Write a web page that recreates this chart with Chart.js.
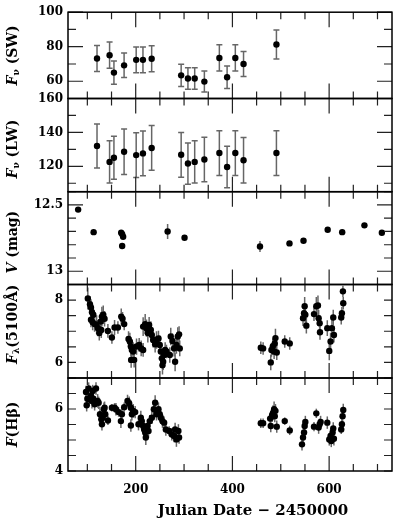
<!DOCTYPE html>
<html>
<head>
<meta charset="utf-8">
<script src="https://cdn.jsdelivr.net/npm/chart.js@4.4.0/dist/chart.umd.min.js"></script>
<style>
  body { margin: 0; background: #fff; }
  #wrap { position: relative; width: 397px; height: 519px; }
  #wrap canvas { position: absolute; left: 0; top: 0; }
</style>
</head>
<body>
<div id="wrap">
  <canvas id="c0" width="397" height="519"></canvas>
  <canvas id="c1" width="397" height="519"></canvas>
  <canvas id="c2" width="397" height="519"></canvas>
  <canvas id="c3" width="397" height="519"></canvas>
  <canvas id="c4" width="397" height="519"></canvas>
</div>
<script>
// ---- data (Julian Date - 2450000) ----
var irDates = [120, 146, 155, 176, 201, 215, 233, 294, 308, 322, 342, 373, 389, 406, 423, 491];
var swFlux = [73.2, 75.1, 65.0, 69.2, 72.4, 72.4, 73.0, 63.4, 61.6, 61.6, 59.8, 73.5, 62.3, 73.5, 70.0, 81.3];
var swErr = [7.5, 7.6, 6.7, 7.1, 7.5, 7.5, 7.5, 6.5, 6.2, 6.2, 6.1, 7.6, 6.5, 7.6, 7.2, 8.4];
var lwFlux = [132, 122.6, 125, 128.6, 126.6, 127.6, 130.8, 126.8, 121.6, 122.6, 124, 127.8, 119.6, 127.8, 123.6, 127.8];
var lwErr = [13, 12.5, 12.7, 13.4, 13.2, 13.2, 13.2, 13.2, 12.2, 12.4, 13.2, 13.2, 12.2, 13.2, 13.4, 13.2];

var vDates = [81, 113, 170, 172, 174, 172, 266, 301, 457, 518, 547, 597, 627, 673, 709];
var vMag = [12.535, 12.705, 12.71, 12.72, 12.74, 12.81, 12.70, 12.747, 12.813, 12.79, 12.77, 12.687, 12.705, 12.654, 12.71];
var vErr = [0.01, 0.01, 0.01, 0.01, 0.01, 0.01, 0.057, 0.01, 0.042, 0.01, 0.01, 0.01, 0.01, 0.01, 0.01];

var contDates = [101, 105.4, 107.5, 109.6, 112.3, 107.5, 111, 115, 119.2, 121.9, 124.7, 127.4, 130.1, 132.9, 135.6, 128.8, 142.5, 150.8, 156.3, 163.2, 170.1, 172.8, 176.2,
  185.2, 187.9, 190, 192.1, 190.6, 194.8, 196.8, 201.7, 207.2, 211.3, 215.4, 215.4, 219.6, 222.3, 225.1, 227.8, 231.3, 233.3, 236.1, 240.2,
  243, 247.1, 249.8, 251.9, 254, 255.4, 256.8, 258.8, 260.9, 263.6, 270.5, 272.5, 276, 279.4, 281.5, 284.2, 287, 289.7, 291.1,
  458.7, 463.5, 479.3, 480.7, 483.5, 486.2, 487.6, 489, 491.7, 508.2, 518.5, 546, 548.1, 549.4, 550.8, 552.9, 568.7, 573.5, 576.9, 578.3,
  580.4, 581.1, 596.2, 600.3, 603, 605.8, 608.5, 609.9, 625, 626.4, 629.2, 628.5];
var contFlux = [8.05, 7.87, 7.76, 7.61, 7.53, 7.37, 7.29, 7.23, 7.21, 7.10, 6.94, 7.31, 7.47, 7.53, 7.40, 7.04, 7.01, 6.80, 7.12, 7.12, 7.47, 7.40, 7.23,
  6.75, 6.67, 6.51, 6.40, 6.08, 6.35, 6.08, 6.51, 6.56, 6.45, 6.40, 7.15, 7.23, 7.10, 6.94, 7.20, 7.04, 6.88, 6.72, 6.58,
  6.72, 6.77, 6.56, 6.35, 6.13, 5.91, 6.02, 6.24, 6.40, 6.35, 6.24, 6.83, 6.69, 6.45, 6.02, 6.56, 6.83, 6.90, 6.45,
  6.47, 6.45, 6.00, 6.40, 6.51, 6.35, 6.61, 6.78, 6.32, 6.67, 6.61, 7.42, 7.58, 7.80, 7.53, 7.18, 7.55, 7.80, 7.83, 7.42,
  7.26, 6.97, 7.10, 6.37, 6.67, 7.10, 7.44, 6.88, 7.44, 7.58, 7.90, 8.28];
var contErr = [0.35, 0.25, 0.27, 0.25, 0.28, 0.24, 0.26, 0.25, 0.3, 0.26, 0.24, 0.3, 0.32, 0.3, 0.25, 0.26, 0.22, 0.2, 0.24, 0.2, 0.26, 0.22, 0.2,
  0.25, 0.28, 0.3, 0.26, 0.25, 0.3, 0.24, 0.26, 0.22, 0.25, 0.22, 0.3, 0.32, 0.28, 0.3, 0.26, 0.28, 0.25, 0.24, 0.26,
  0.28, 0.25, 0.3, 0.28, 0.3, 0.3, 0.26, 0.24, 0.25, 0.22, 0.25, 0.28, 0.24, 0.26, 0.3, 0.28, 0.3, 0.26, 0.25,
  0.2, 0.2, 0.25, 0.22, 0.26, 0.24, 0.25, 0.3, 0.24, 0.2, 0.2, 0.25, 0.26, 0.3, 0.28, 0.25, 0.22, 0.3, 0.32, 0.26,
  0.25, 0.24, 0.25, 0.3, 0.28, 0.26, 0.25, 0.24, 0.22, 0.2, 0.2, 0.18];

var hbDates = [97.2, 100, 98.6, 102.7, 104.1, 107.6, 109.6, 111, 112.4, 115.1, 117.9, 121.3, 123.4, 126.1, 128.9, 130.2, 131.6, 134.3, 135.7, 137.1,
  142.6, 150.8, 156.3, 159.1, 164.6, 169.4, 171.5, 176.2, 183.1, 186.5, 190, 192.1, 190, 194.8, 198.9, 205.8, 210.6, 212.6, 215.4, 217.5,
  219.6, 220.9, 224.4, 226.5, 229.2, 233.4, 237.5, 240.2, 243, 247.1, 249.8, 251.9, 255.4, 258.8, 262.3, 269.2, 274.7, 279.4, 281.5, 284.2,
  288.3, 289.7,
  458.7, 463.5, 478, 479.3, 482.1, 484.1, 486.2, 487.6, 489, 491.7, 508.2, 518.5, 543.9, 546, 548.1, 549.4, 550.8, 568.7, 573.5, 578.3,
  580.4, 582.4, 596.2, 600.3, 603, 604.4, 607.2, 609.9, 608.5, 625, 626.4, 627.8, 629.2];
var hbFlux = [6.55, 6.33, 6.12, 6.66, 6.31, 6.42, 6.26, 6.58, 6.33, 6.15, 6.66, 6.26, 6.20, 5.83, 5.67, 5.51, 5.72, 5.99, 6.04, 5.83,
  5.63, 6.04, 6.04, 5.99, 5.90, 5.61, 5.83, 6.06, 6.26, 6.18, 6.04, 5.83, 5.47, 5.94, 5.90, 5.51, 5.72, 5.61, 5.45, 5.34,
  5.24, 5.08, 5.45, 5.29, 5.61, 5.72, 5.99, 6.20, 5.83, 5.99, 5.83, 5.72, 5.61, 5.56, 5.34, 5.29, 5.18, 5.13, 5.34, 5.02,
  5.29, 5.08,
  5.54, 5.54, 5.69, 5.45, 5.80, 5.88, 5.99, 5.77, 5.94, 5.43, 5.61, 5.31, 4.86, 5.08, 5.24, 5.45, 5.58, 5.43, 5.86, 5.40,
  5.51, 5.58, 5.56, 5.02, 5.13, 4.97, 5.24, 5.04, 5.37, 5.34, 5.51, 5.77, 5.97];
var hbErr = [0.2, 0.22, 0.2, 0.2, 0.22, 0.2, 0.24, 0.2, 0.22, 0.2, 0.2, 0.22, 0.2, 0.24, 0.22, 0.2, 0.2, 0.22, 0.2, 0.2,
  0.15, 0.12, 0.15, 0.2, 0.15, 0.22, 0.2, 0.15, 0.2, 0.22, 0.24, 0.2, 0.2, 0.22, 0.2, 0.2, 0.22, 0.2, 0.22, 0.2,
  0.22, 0.24, 0.2, 0.22, 0.2, 0.2, 0.22, 0.24, 0.2, 0.22, 0.24, 0.2, 0.22, 0.2, 0.2, 0.15, 0.2, 0.2, 0.22, 0.24,
  0.22, 0.2,
  0.15, 0.15, 0.2, 0.2, 0.22, 0.24, 0.25, 0.2, 0.22, 0.2, 0.12, 0.15, 0.2, 0.2, 0.22, 0.2, 0.2, 0.15, 0.15, 0.2,
  0.18, 0.2, 0.2, 0.2, 0.22, 0.2, 0.2, 0.22, 0.2, 0.15, 0.18, 0.2, 0.2];

// ---- tick labels ----
var xLabels = [200, 400, 600];
var xMinor = [100, 150, 250, 300, 350, 450, 500, 550, 650, 700];
var swTicks = [60, 80, 100], swMinor = [50, 70, 90];
var lwTicks = [120, 140, 160], lwMinor = [110, 130, 150];
var vTicks = [12.5, 13], vMinor = [12.4, 12.6, 12.7, 12.8, 12.9, 13.1];
var contTicks = [6, 8], contMinor = [5.5, 6.5, 7, 7.5];
var hbTicks = [4, 6], hbMinor = [4.5, 5, 5.5, 6.5];
var xTitle = 'Julian Date − 2450000';

// ---- layout ----
var W = 397, H = 519;
var edges = [5, 98.5, 191.7, 284.5, 378, 471];
var FAM = '"DejaVu Serif", "Liberation Serif", serif';

function drawRich(ctx, parts, cx, cy) {
  var total = 0;
  parts.forEach(function (p) { ctx.font = p.f; p.w = ctx.measureText(p.t).width; total += p.w; });
  ctx.save();
  ctx.translate(cx, cy);
  ctx.rotate(-Math.PI / 2);
  ctx.fillStyle = '#000';
  ctx.textBaseline = 'middle';
  ctx.textAlign = 'left';
  var x = -total / 2;
  parts.forEach(function (p) {
    ctx.font = p.f;
    ctx.fillText(p.t, x, p.dy || 0);
    x += p.w;
  });
  ctx.restore();
}

function makeDeco(cfg, last) {
  return {
    id: 'deco',
    beforeDatasetsDraw: function (chart) {
      var ctx = chart.ctx, a = chart.chartArea;
      var xs = chart.scales.x, ys = chart.scales.y;
      ctx.save();
      ctx.beginPath();
      ctx.rect(a.left, a.top, a.right - a.left, a.bottom - a.top);
      ctx.clip();
      ctx.strokeStyle = '#666';
      ctx.lineWidth = 1.5;
      for (var i = 0; i < cfg.xv.length; i++) {
        var px = xs.getPixelForValue(cfg.xv[i]);
        var y1 = ys.getPixelForValue(cfg.yv[i] - cfg.ev[i]);
        var y2 = ys.getPixelForValue(cfg.yv[i] + cfg.ev[i]);
        ctx.beginPath();
        ctx.moveTo(px, y1); ctx.lineTo(px, y2);
        if (cfg.caps) {
          ctx.moveTo(px - 3, y1); ctx.lineTo(px + 3, y1);
          ctx.moveTo(px - 3, y2); ctx.lineTo(px + 3, y2);
        }
        ctx.stroke();
      }
      ctx.restore();
    },
    afterDraw: function (chart) {
      var ctx = chart.ctx, a = chart.chartArea;
      var xs = chart.scales.x, ys = chart.scales.y;
      ctx.save();
      ctx.strokeStyle = '#222';
      ctx.lineWidth = 1.2;
      ctx.beginPath();
      function vt(v, len) {
        var px = xs.getPixelForValue(v);
        ctx.moveTo(px, a.top); ctx.lineTo(px, a.top + len);
        ctx.moveTo(px, a.bottom); ctx.lineTo(px, a.bottom - len);
      }
      function ht(v, len) {
        var py = ys.getPixelForValue(v);
        ctx.moveTo(a.left, py); ctx.lineTo(a.left + len, py);
        ctx.moveTo(a.right, py); ctx.lineTo(a.right - len, py);
      }
      xLabels.forEach(function (v) { vt(v, 15); });
      xMinor.forEach(function (v) { vt(v, 7); });
      cfg.major.forEach(function (v) { ht(v, cfg.majLen); });
      cfg.minor.forEach(function (v) { ht(v, 8); });
      ctx.stroke();
      ctx.strokeStyle = '#000';
      ctx.lineWidth = 1.5;
      ctx.strokeRect(a.left, a.top, a.right - a.left, a.bottom - a.top);
      if (last) {
        ctx.fillStyle = '#000';
        ctx.font = 'bold 15px ' + FAM;
        ctx.textAlign = 'center';
        ctx.textBaseline = 'middle';
        ctx.fillText(xTitle, 253, 511);
      }
      ctx.restore();
      drawRich(ctx, cfg.title, 13, (a.top + a.bottom) / 2 + (cfg.tdy || 0));
    }
  };
}

var panels = [
  { xv: irDates, yv: swFlux, ev: swErr, caps: true, min: 50, max: 100, major: swTicks, minor: swMinor, majLen: 15, tdy: 0,
    title: [{ t: 'F', f: 'italic bold 14px ' + FAM }, { t: 'ν', f: 'bold 9px ' + FAM, dy: 4 }, { t: ' (SW)', f: 'bold 14px ' + FAM }] },
  { xv: irDates, yv: lwFlux, ev: lwErr, caps: true, min: 105, max: 160, major: lwTicks, minor: lwMinor, majLen: 15, tdy: 4,
    title: [{ t: 'F', f: 'italic bold 14px ' + FAM }, { t: 'ν', f: 'bold 9px ' + FAM, dy: 4 }, { t: ' (LW)', f: 'bold 14px ' + FAM }] },
  { xv: vDates, yv: vMag, ev: vErr, caps: false, min: 12.4, max: 13.1, reverse: true, major: vTicks, minor: vMinor, majLen: 15, tdy: 4,
    title: [{ t: 'V', f: 'italic bold 14px ' + FAM }, { t: ' (mag)', f: 'bold 14px ' + FAM }] },
  { xv: contDates, yv: contFlux, ev: contErr, caps: false, min: 5.5, max: 8.5, major: contTicks, minor: contMinor, majLen: 8, tdy: -7,
    title: [{ t: 'F', f: 'italic bold 14px ' + FAM }, { t: 'λ', f: 'bold 9px ' + FAM, dy: 4 }, { t: '(5100Å)', f: 'bold 14px ' + FAM }] },
  { xv: hbDates, yv: hbFlux, ev: hbErr, caps: false, min: 4, max: 7, major: hbTicks, minor: hbMinor, majLen: 8, tdy: 0,
    title: [{ t: 'F', f: 'italic bold 14px ' + FAM }, { t: '(Hβ)', f: 'bold 14px ' + FAM }] }
];

panels.forEach(function (p, i) {
  var last = i === panels.length - 1;
  var pts = p.xv.map(function (x, k) { return { x: x, y: p.yv[k] }; });
  new Chart(document.getElementById('c' + i), {
    type: 'scatter',
    data: {
      datasets: [{
        data: pts,
        pointRadius: 3.2,
        pointBackgroundColor: '#000',
        pointBorderWidth: 0
      }]
    },
    options: {
      responsive: false,
      devicePixelRatio: 1,
      animation: false,
      events: [],
      layout: { padding: { top: edges[i], bottom: last ? 0 : H - edges[i + 1], left: 0, right: 5 } },
      plugins: { legend: { display: false }, tooltip: { enabled: false } },
      scales: {
        x: {
          type: 'linear',
          min: 60, max: 730,
          display: last,
          grid: { display: false, drawTicks: false },
          border: { display: false },
          afterBuildTicks: function (s) { s.ticks = xLabels.map(function (v) { return { value: v }; }); },
          afterFit: function (s) { s.height = last ? H - edges[5] : 0; },
          ticks: { color: '#000', padding: 12, maxRotation: 0, font: { family: FAM, weight: 'bold', size: 12 } },
          title: { display: false }
        },
        y: {
          type: 'linear',
          min: p.min, max: p.max,
          reverse: !!p.reverse,
          grid: { display: false, drawTicks: false },
          border: { display: false },
          afterBuildTicks: function (s) { s.ticks = p.major.map(function (v) { return { value: v }; }); },
          afterFit: function (s) { s.width = 68; },
          ticks: { color: '#000', padding: 5, callback: function (v) { return String(v); },
                   font: { family: FAM, weight: 'bold', size: 12 } }
        }
      }
    },
    plugins: [makeDeco(p, last)]
  });
});
</script>
</body>
</html>
